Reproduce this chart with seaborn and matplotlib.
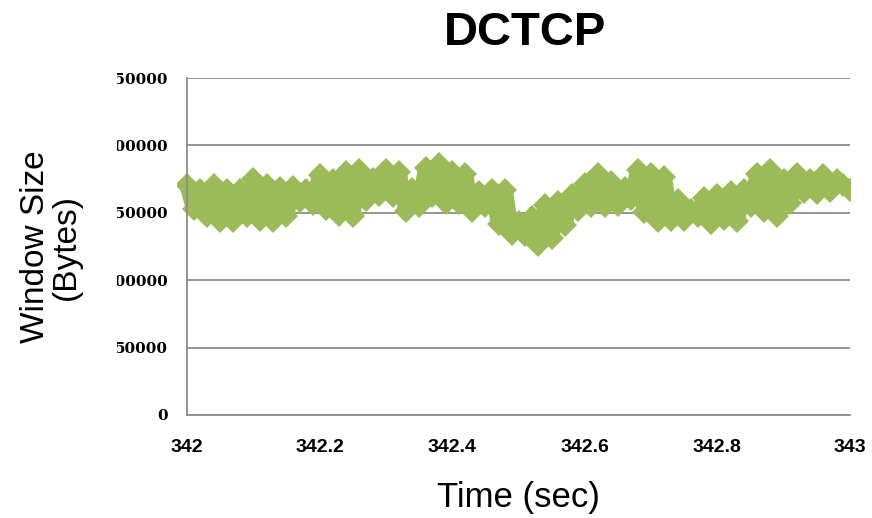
import numpy as np
import matplotlib
matplotlib.use("Agg")
import matplotlib.pyplot as plt
import seaborn as sns
from matplotlib.transforms import Bbox, TransformedBbox

# DCTCP congestion window trace (bytes, 10 ms steps)
window_bytes = [
    170600, 152800, 166900, 147600, 170600, 143900, 166900, 143900, 166900, 147600,
    175100, 144700, 170600, 143900, 168400, 147600, 169100, 158700, 166900, 156500,
    178000, 152800, 174300, 148400, 180300, 147600, 181700, 159500, 175100, 163200,
    181700, 162500, 180300, 151300, 167600, 155000, 183200, 162500, 186200, 157300,
    180300, 157300, 178800, 151300, 165400, 155000, 166900, 141700, 166900, 134300,
    143200, 133500, 146900, 126100, 155800, 131300, 158000, 140900, 163200, 152100,
    171400, 155000, 178800, 155000, 172800, 155800, 168400, 160200, 181700, 150600,
    178800, 143900, 176500, 144700, 159500, 144700, 152100, 147600, 161000, 142400,
    163200, 145400, 165400, 143900, 166900, 155000, 178800, 151300, 181700, 147600,
    174300, 157300, 178800, 165400, 174300, 164700, 178000, 166200, 174300, 170600,
    166900,
]
time_start, time_end = 342.0, 343.0
time_sec = np.linspace(time_start, time_end, len(window_bytes))

x_ticks = [342, 342.2, 342.4, 342.6, 342.8, 343]
x_tick_labels = ["342", "342.2", "342.4", "342.6", "342.8", "343"]
y_ticks = [0, 50000, 100000, 150000, 200000, 250000]
y_tick_labels = ["0", "50000", "100000", "150000", "200000", "250000"]

sns.set_style("white")
plt.rcParams["font.family"] = ["Liberation Sans", "DejaVu Sans"]
plt.rcParams["text.color"] = "black"
plt.rcParams["axes.labelcolor"] = "black"
plt.rcParams["xtick.color"] = "black"
plt.rcParams["ytick.color"] = "black"

W, H = 872, 518
fig = plt.figure(figsize=(W / 100, H / 100), dpi=100)
ax = fig.add_axes([187 / W, 1 - 415 / H, (850 - 187) / W, (415 - 78) / H])

sns.lineplot(x=time_sec, y=window_bytes, ax=ax, color="#9BBB59",
             linewidth=11, marker="D", markersize=12.2, markeredgewidth=0,
             solid_joinstyle="round", solid_capstyle="round")

ax.set_xlim(time_start, time_end)
ax.set_ylim(0, 250000)
ax.set_xticks(x_ticks, x_tick_labels)
ax.set_yticks(y_ticks, y_tick_labels)

ax.yaxis.grid(True, color="#8c8c8c", linewidth=1.3)
ax.xaxis.grid(False)
ax.set_axisbelow(True)
for side in ["top", "right"]:
    ax.spines[side].set_visible(False)
for side in ["left", "bottom"]:
    ax.spines[side].set_color("#8c8c8c")
    ax.spines[side].set_linewidth(1.3)

ax.tick_params(axis="x", length=0, pad=17)
ax.tick_params(axis="y", length=0, pad=14)
for lab in ax.get_xticklabels():
    lab.set_fontweight("bold")
    lab.set_fontsize(14)
for lab in ax.get_yticklabels():
    lab.set_family(["DejaVu Serif"])
    lab.set_fontweight("bold")
    lab.set_fontsize(11)
    # left part of the labels is cut off in the original picture
    lab.set_clip_box(Bbox.from_extents(117, 0, W, H))
    lab.set_clip_on(True)

# let the thick trace run a little past the left axis, as in the original
line = ax.lines[0]
line.set_clip_box(TransformedBbox(Bbox([[341.985, -1e6], [343, 1e6]]), ax.transData))

ax.set_xlabel("Time (sec)", fontsize=25, labelpad=18)
ax.set_ylabel("Window Size\n(Bytes)", fontsize=24, labelpad=16, linespacing=1.0)
fig.text(525 / W, 1 - 33 / H, "DCTCP", fontsize=34, fontweight="bold",
         ha="center", va="center")

fig.savefig("out.png", dpi=100)
